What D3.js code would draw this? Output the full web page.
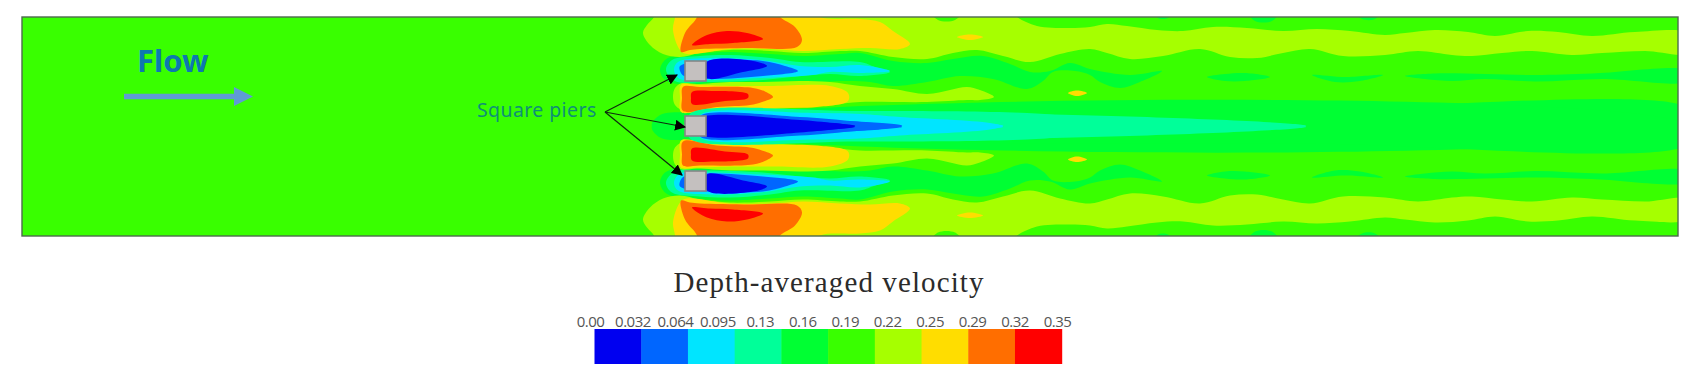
<!DOCTYPE html>
<html><head><meta charset="utf-8">
<script src="https://cdnjs.cloudflare.com/ajax/libs/d3/7.8.5/d3.min.js"></script>
<style>html,body{margin:0;padding:0;background:#fff}svg{display:block}</style>
</head><body><svg id="c" width="1693" height="382"></svg>
<script>
// Legend
const legendTitle = "Depth-averaged velocity";
const tickLabels = ["0.00","0.032","0.064","0.095","0.13","0.16","0.19","0.22","0.25","0.29","0.32","0.35"];
const bandColors = ["#0000f0","#0066ff","#00e5ff","#00ff99","#00ff33","#39ff00","#a6ff00","#ffdd00","#ff6e00","#ff0000"];

// Contour outlines in channel coordinates (upper half)
const limeTop = [[655,8],[654,17],[647,25],[643,33],[650,45],[663,54],[680,57],[700,53],[730,50],[770,51],[803,53],[840,51],[860,51],[893,57],[927,59],[953,53],[977,50],[1003,56],[1030,62],[1060,54],[1090,49],[1107,53],[1130,59],[1163,56],[1200,49],[1230,57],[1257,58],[1283,53],[1310,49],[1343,56],[1385,55],[1418,51],[1452,55],[1472,56],[1502,53],[1532,51],[1572,55],[1602,53],[1645,51],[1690,53],[1690,34],[1635,32],[1592,36],[1558,32],[1528,31],[1495,36],[1468,32],[1435,30],[1405,33],[1385,35],[1350,31],[1317,29],[1283,31],[1247,28],[1213,27],[1183,31],[1157,30],[1127,26],[1107,24],[1090,27],[1067,28],[1037,26],[1017,17],[1008,8]];
const limeMid = [[673,97],[675,88],[682,83],[697,84],[730,82],[763,82],[800,81],[830,82],[860,86],[893,89],[927,94],[950,90],[967,87],[980,90],[994,97],[980,100],[967,100],[927,102],[893,102],[860,102],[830,105],[790,108],[740,111],[697,112],[682,110],[675,105]];
const yellowTop = [[675,8],[675,17],[673,30],[680,50],[687,54],[730,49],[770,49],[803,51],[840,49],[870,48],[900,49],[910,44],[893,31],[880,22],[860,19],[820,17],[810,8]];
const yellowMid = [[681,85],[697,85],[735,86],[773,86],[830,86],[848,93],[848,101],[817,107],[773,108],[697,112],[681,112],[680,98]];
const orangeTop = [[697,8],[697,17],[685,33],[681,52],[690,50],[700,49],[750,48],[797,47],[802,40],[795,27],[780,17],[775,8]];
const orangeMid = [[683,87],[700,87],[753,88],[766,92],[773,97],[762,102],[750,105],[717,107],[683,111],[682,98]];
const redTop = [[692,45],[707,35],[727,31],[747,33],[763,39],[733,43],[710,44]];
const redMid = [[692,92],[715,91],[740,92],[748,94],[748,98],[725,101],[692,104],[691,98]];
const greenWake = [[677,55],[705,53],[730,52],[770,54],[803,56],[840,54],[860,53],[893,61],[927,63],[953,59],[983,56],[1010,64],[1030,72],[1050,71],[1070,63],[1090,69],[1130,75],[1162,71],[1140,82],[1120,88],[1100,82],[1090,75],[1075,71],[1053,72],[1043,81],[1027,89],[993,79],[960,76],[927,82],[893,86],[870,82],[847,81],[803,83],[763,84],[699,84],[678,84],[665,80],[660,70],[665,60]];
const greenCentre = [[652,126.5],[660,115],[685,112],[730,112],[800,110],[860,109],[1000,109],[1300,109],[1690,109],[1690,126.5]];
const greenIsland1 = [[1207,77],[1225,74],[1245,73],[1270,77],[1245,81],[1225,81]];
const greenIsland2 = [[1312,75],[1345,77],[1383,75],[1360,81],[1335,82]];
const greenIsland3 = [[1405,76],[1435,73.5],[1485,74],[1535,75],[1592,73.5],[1690,71],[1690,81],[1602,79],[1535,81.5],[1485,79],[1452,81],[1425,79]];
const edgePatch1 = [[1153,10],[1173,10],[1168,18],[1158,18]];
const edgePatch2 = [[1247,10],[1280,10],[1272,21],[1255,21]];
const edgePatch3 = [[1353,10],[1383,10],[1375,19],[1362,19]];
const edgeBump = [[930,10],[963,10],[955,20],[938,20]];
const yellowSpot1 = [[957,37],[970,34.5],[983,37],[970,40]];
const yellowSpot2 = [[1068,93],[1077,90.5],[1087,93],[1077,96]];
const aquaWake = [[672,60],[700,56],[730,55],[770,58],[800,62],[860,62],[875,67],[890,72],[860,76],[830,74],[800,76],[763,80],[707,82],[675,81],[666,70]];
const cyanWake = [[678,62],[710,58],[760,60],[800,66],[830,67],[860,65],[890,71],[860,73],[830,72],[813,75],[760,78],[710,80],[680,79],[674,70]];
const azureWake = [[680,66],[707,61],[763,61],[785,66],[798,71],[763,76],[707,79],[684,76],[680,71]];
const blueWake = [[707,62],[753,61],[767,66],[743,72],[707,78]];
const aquaCentre = [[690,114],[860,111],[1027,113],[1090,118],[1190,120],[1273,125],[1306,126.5],[1306,127],[690,127]];
const cyanCentre = [[700,115],[813,113],[860,114],[900,117],[990,123],[1003,126.5],[1003,127],[700,127]];
const azureCentre = [[700,116],[800,117],[850,121],[902,126.5],[902,127],[700,127]];
const blueCentre = [[700,118],[800,120],[855,126.5],[855,127],[700,127]];

const pierCentresY = [71,126,181];
const pierX = [685,706];
const pierHalf = 10;
const labelText = "Square piers";
const flowText = "Flow";
const calloutFrom = [605,112];
const calloutTo = [[677,75],[685,127],[682,175]];
const flowArrow = [124,253];

const mirrorY = 252.5;
// [points, colour band, mirrored?] in drawing order
const layers = [
  [greenCentre,4,true],[greenWake,4,true],[greenIsland1,4,true],[greenIsland2,4,true],[greenIsland3,4,true],
  [edgePatch1,4,true],[edgePatch2,4,true],[edgePatch3,4,true],
  [limeTop,6,true],[limeMid,6,true],[edgeBump,5,true],
  [yellowTop,7,true],[yellowMid,7,true],[yellowSpot1,7,true],[yellowSpot2,7,true],
  [orangeTop,8,true],[orangeMid,8,true],[redTop,9,true],[redMid,9,true],
  [aquaWake,3,true],[cyanWake,2,true],[azureWake,1,true],[blueWake,0,true],
  [aquaCentre,3,true],[cyanCentre,2,true],[azureCentre,1,true],[blueCentre,0,true]
];

const svg = d3.select("#c");
const x = d3.scaleLinear().domain([22,1678]).range([22,1678]);
const y = d3.scaleLinear().domain([17,236]).range([17,236]);
const plot = {l:x(22), r:x(1678), t:y(17), b:y(236)};

const defs = svg.append("defs");
defs.append("clipPath").attr("id","plotClip").append("rect")
  .attr("x",plot.l).attr("y",plot.t).attr("width",plot.r-plot.l).attr("height",plot.b-plot.t);
const mk2 = defs.append("marker").attr("id","head2").attr("viewBox","0 0 10 10").attr("refX",9).attr("refY",5)
  .attr("markerWidth",11).attr("markerHeight",11).attr("markerUnits","userSpaceOnUse").attr("orient","auto");
mk2.append("path").attr("d","M0,0L10,5L0,10Z").attr("fill","#000");

const field = svg.append("g").attr("clip-path","url(#plotClip)").append("g").style("filter","blur(0.55px)");
field.append("rect").attr("x",plot.l-5).attr("y",plot.t-5).attr("width",plot.r-plot.l+10).attr("height",plot.b-plot.t+10)
  .attr("fill",bandColors[5]);
const line = d3.line().x(d=>x(d[0])).y(d=>y(d[1])).curve(d3.curveCatmullRomClosed.alpha(0.5));
layers.forEach(([pts,band,mirror])=>{
  field.append("path").attr("d",line(pts)).attr("fill",bandColors[band]);
  if(mirror) field.append("path").attr("d",line(pts.map(p=>[p[0],mirrorY-p[1]]))).attr("fill",bandColors[band]);
});

svg.selectAll("rect.pier").data(pierCentresY).join("rect").attr("class","pier")
  .attr("x",x(pierX[0])).attr("width",x(pierX[1])-x(pierX[0]))
  .attr("y",d=>y(d-pierHalf)).attr("height",d=>y(d+pierHalf)-y(d-pierHalf))
  .attr("fill","#c4c0bf").attr("stroke","#858585").attr("stroke-width",1.6);

svg.append("rect").attr("x",plot.l).attr("y",plot.t).attr("width",plot.r-plot.l).attr("height",plot.b-plot.t)
  .attr("fill","none").attr("stroke","#4d6a4d").attr("stroke-width",1.4);

svg.selectAll("line.call").data(calloutTo).join("line").attr("class","call")
  .attr("x1",x(calloutFrom[0])).attr("y1",y(calloutFrom[1])).attr("x2",d=>x(d[0])).attr("y2",d=>y(d[1]))
  .attr("stroke","#0d2a0d").attr("stroke-width",1.2).attr("marker-end","url(#head2)");

svg.append("text").attr("x",477).attr("y",y(117)).text(labelText)
  .attr("font-family","'Noto Sans'").attr("font-size",19.5).attr("letter-spacing",0.4).attr("fill","#0e8f78");
svg.append("text").attr("x",137).attr("y",y(72)).text(flowText)
  .attr("font-family","'Noto Sans'").attr("font-weight",700).attr("font-size",31).attr("fill","#0d78b0");

const fa = d3.path();
const ay = y(96.5);
fa.moveTo(x(flowArrow[0]),ay-2.8); fa.lineTo(x(flowArrow[1])-19,ay-2.8); fa.lineTo(x(flowArrow[1])-19,ay-9.5);
fa.lineTo(x(flowArrow[1]),ay); fa.lineTo(x(flowArrow[1])-19,ay+9.5); fa.lineTo(x(flowArrow[1])-19,ay+2.8);
fa.lineTo(x(flowArrow[0]),ay+2.8); fa.closePath();
svg.append("path").attr("d",fa.toString()).attr("fill","#5f9bd5");

// Legend
svg.append("text").attr("x",829).attr("y",292).attr("text-anchor","middle").text(legendTitle)
  .attr("font-family","'Liberation Serif'").attr("font-size",29).attr("letter-spacing",1.1).attr("fill","#2b2b2b");
const bandScale = d3.scaleBand().domain(d3.range(bandColors.length)).range([594.5,1061.7]).paddingInner(0);
svg.append("g").style("filter","blur(0.35px)").selectAll("rect").data(bandColors).join("rect")
  .attr("x",(d,i)=>bandScale(i)).attr("width",bandScale.bandwidth()+0.5).attr("y",329).attr("height",35).attr("fill",d=>d);
const tickScale = d3.scalePoint().domain(tickLabels).range([590.5,1057.5]);
svg.selectAll("text.tick").data(tickLabels).join("text").attr("class","tick")
  .attr("x",d=>tickScale(d)).attr("y",327).attr("text-anchor","middle").text(d=>d)
  .attr("font-family","'Open Sans'").attr("font-size",15).attr("letter-spacing",-0.5).attr("fill","#555");
</script></body></html>
